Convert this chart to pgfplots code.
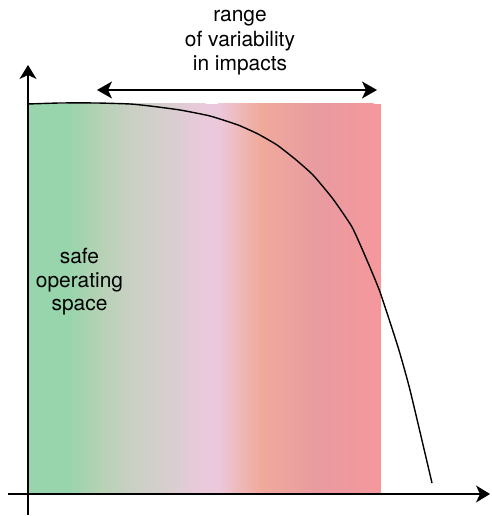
\documentclass[border=0pt]{standalone}
\usepackage{pgfplots}
\pgfplotsset{compat=1.18}
\usepackage{fontspec}
\setmainfont{TeX Gyre Heros}
\usetikzlibrary{arrows.meta}
\definecolor{c0}{RGB}{152,212,172}
\definecolor{c1}{RGB}{180,210,180}
\definecolor{c2}{RGB}{200,208,195}
\definecolor{c3}{RGB}{216,206,207}
\definecolor{c4}{RGB}{235,201,220}
\definecolor{c5}{RGB}{238,184,184}
\definecolor{c6}{RGB}{240,170,155}
\definecolor{c7}{RGB}{232,155,160}
\definecolor{c8}{RGB}{244,152,156}
\begin{document}
\begin{tikzpicture}
\begin{axis}[
  x=1bp, y=1bp,
  axis lines=middle,
  xmin=-20, xmax=462, ymin=-21, ymax=429,
  xtick=\empty, ytick=\empty,
  axis line style={line width=1.6bp, -{Stealth[length=14bp,width=17bp,inset=4bp]}},
  clip=false,
  axis on top,
]
\path (axis cs:-28,-22) rectangle (axis cs:464,494);
% gradient band drawn as piecewise-linear shaded strips
\addplot[draw=none, fill=c0] coordinates {(0,0) (40.5,0) (40.5,390) (0,390)} -- cycle;
\addplot[draw=none, left color=c0, right color=c1] coordinates {(40,0) (70.5,0) (70.5,390) (40,390)} -- cycle;
\addplot[draw=none, left color=c1, right color=c2] coordinates {(70,0) (100.5,0) (100.5,390) (70,390)} -- cycle;
\addplot[draw=none, left color=c2, right color=c3] coordinates {(100,0) (140.5,0) (140.5,390) (100,390)} -- cycle;
\addplot[draw=none, left color=c3, right color=c4] coordinates {(140,0) (177.5,0) (177.5,390) (140,390)} -- cycle;
\addplot[draw=none, fill=c4] coordinates {(177,0) (190.5,0) (190.5,390) (177,390)} -- cycle;
\addplot[draw=none, left color=c4, right color=c5] coordinates {(190,0) (212.5,0) (212.5,390) (190,390)} -- cycle;
\addplot[draw=none, left color=c5, right color=c6] coordinates {(212,0) (232.5,0) (232.5,390) (212,390)} -- cycle;
\addplot[draw=none, left color=c6, right color=c7] coordinates {(232,0) (290.5,0) (290.5,390) (232,390)} -- cycle;
\addplot[draw=none, left color=c7, right color=c8] coordinates {(290,0) (345.5,0) (345.5,390) (290,390)} -- cycle;
\addplot[draw=none, fill=c8] coordinates {(345,0) (353,0) (353,390) (345,390)} -- cycle;
% curve
\addplot[black, line width=1.4bp, smooth, tension=0.3] coordinates {
 (0,390) (32,391) (69,391) (102,390) (122,388) (152,384) (182,378) (210,369)
 (230,360) (249,349) (267,335) (285,319) (305,295) (324,267) (338,236)
 (352,202) (370,147) (382,104) (404,11)};
% range arrow
\addplot[black, line width=1.4bp, {Stealth[length=15bp,width=17bp,inset=4bp]}-{Stealth[length=15bp,width=17bp,inset=4bp]}] coordinates {(69,404) (349,404)};
\node[align=center, font=\fontsize{21}{24.5}\selectfont] at (axis cs:212,451) {range\\of variability\\in impacts};
\node[align=center, font=\fontsize{21}{23.5}\selectfont] at (axis cs:51.5,212) {safe\\operating\\space};
\end{axis}
\end{tikzpicture}
\end{document}
